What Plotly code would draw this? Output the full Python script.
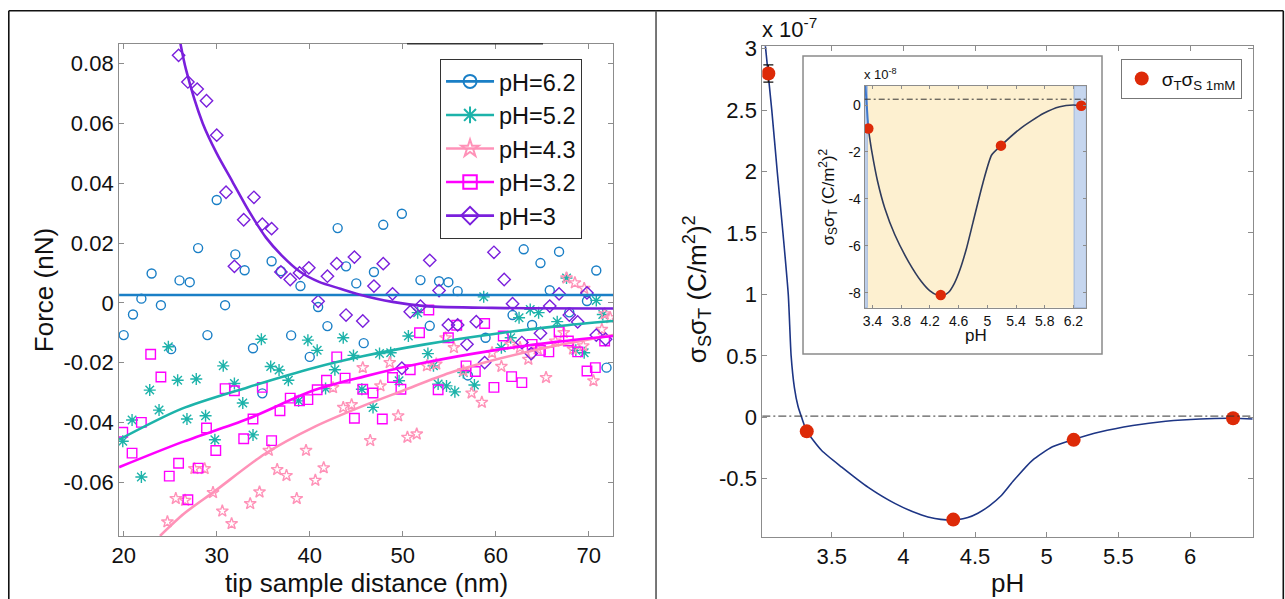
import plotly.graph_objects as go

# The page shows the figure 8 px from the top-left corner and the picture is
# slightly scaled; positions below are given in picture pixels and converted.
OFF = 8
W, H = 1285, 599
SX, SY = 1285 / 1293, 599 / 607
FONT = "Liberation Sans, Arial, sans-serif"

# ---------------- Left panel data ----------------
ph62_x = [20.0, 21.0, 21.9, 23.0, 24.0, 25.1, 26.0, 27.1, 28.0, 29.0, 30.0, 30.9, 32.0, 33.0, 33.9, 34.9, 35.9, 36.9, 38.0, 39.0, 40.0, 40.9, 41.9, 43.0, 43.9, 45.0, 45.8, 46.9, 47.9, 49.9, 51.9, 52.9, 53.9, 54.9, 55.9, 57.0, 58.9, 61.8, 63.0, 63.9, 64.8, 65.8, 66.8, 67.9, 69.8, 70.8, 71.9]
ph62_y = [-0.0108, -0.0039, 0.0014, 0.0098, -0.0008, -0.0155, 0.0075, 0.0069, 0.0183, -0.0108, 0.0344, -0.0008, 0.0162, 0.0109, -0.0152, -0.0303, 0.0139, 0.0106, -0.0109, 0.0056, -0.0181, -0.0014, -0.0078, 0.025, 0.0122, 0.0065, -0.0135, 0.0103, 0.0261, 0.0298, 0.0076, -0.0077, 0.0072, 0.0069, 0.0039, -0.0243, -0.0117, -0.0041, 0.0179, -0.0074, 0.0133, 0.0042, 0.0171, -0.0032, 0.0006, 0.0108, -0.0217]

ph52_x = [19.9, 20.9, 21.9, 22.8, 23.8, 24.8, 25.8, 26.8, 27.8, 28.8, 29.8, 30.7, 31.9, 32.8, 33.9, 34.8, 35.8, 36.7, 37.7, 38.8, 39.8, 40.8, 41.7, 42.7, 43.6, 44.7, 45.6, 46.8, 47.5, 48.7, 49.6, 50.6, 51.6, 52.7, 53.3, 53.8, 54.7, 55.6, 56.5, 57.7, 58.7, 60.6, 61.6, 62.5, 63.7, 64.6, 66.6, 67.6, 68.6, 69.5, 70.8, 71.5]
ph52_y = [-0.0463, -0.0392, -0.0583, -0.0292, -0.0359, -0.0147, -0.0259, -0.0389, -0.0255, -0.0378, -0.0458, -0.0211, -0.027, -0.0335, -0.0442, -0.0122, -0.0213, -0.0225, -0.0259, -0.0328, -0.0125, -0.0159, -0.0287, -0.0224, -0.0117, -0.0176, -0.0289, -0.035, -0.017, -0.0167, -0.0261, -0.0111, -0.0033, -0.017, -0.0211, -0.0272, -0.0278, -0.0298, -0.0233, -0.0275, 0.0020, -0.015, -0.0117, -0.005, -0.0022, -0.0033, -0.0063, 0.0083, -0.0159, -0.0167, 0.0008, -0.0039]

ph43_x = [24.7, 25.6, 26.6, 27.6, 28.7, 29.6, 30.6, 31.6, 33.6, 34.6, 35.6, 36.5, 37.5, 38.6, 39.6, 40.6, 41.5, 42.5, 43.6, 44.5, 45.7, 46.5, 47.6, 48.6, 49.5, 50.5, 51.5, 52.6, 53.6, 54.6, 55.5, 56.5, 57.4, 58.5, 59.6, 60.6, 61.6, 62.6, 63.5, 64.5, 65.4, 66.4, 67.3, 67.6, 68.3, 68.5, 69.4, 69.5, 70.5, 71.4, 71.7, 72.3]
ph43_y = [-0.0733, -0.0655, -0.0661, -0.0555, -0.0555, -0.0635, -0.0697, -0.0739, -0.0672, -0.0633, -0.0494, -0.0558, -0.0578, -0.0655, -0.0494, -0.0594, -0.0552, -0.0284, -0.035, -0.0341, -0.0217, -0.0461, -0.0278, -0.02, -0.0378, -0.045, -0.0439, -0.0211, -0.0205, -0.0117, -0.015, -0.0228, -0.0302, -0.0333, -0.0167, -0.0213, -0.0139, -0.015, -0.0189, -0.0155, -0.025, -0.0128, -0.01, 0.0083, -0.0155, 0.0067, -0.0144, 0.0048, -0.0261, -0.0089, -0.0037, -0.005]

ph32_x = [19.9, 20.9, 21.9, 22.9, 24.0, 24.9, 25.9, 26.9, 28.0, 28.9, 29.9, 30.9, 31.9, 32.9, 33.9, 34.9, 35.9, 36.8, 37.9, 38.9, 39.8, 40.8, 41.8, 42.9, 43.8, 44.8, 45.7, 46.8, 47.8, 48.9, 49.8, 50.8, 51.8, 52.8, 53.8, 54.9, 55.8, 56.8, 57.8, 58.8, 59.8, 60.8, 61.7, 62.8, 63.9, 64.8, 65.7, 66.8, 67.8, 68.8, 69.8, 70.7, 71.7]
ph32_y = [-0.0433, -0.0503, -0.04, -0.0172, -0.0248, -0.058, -0.0537, -0.0659, -0.0553, -0.0419, -0.0494, -0.0287, -0.0294, -0.0455, -0.0389, -0.0283, -0.0461, -0.0361, -0.0319, -0.0328, -0.0324, -0.0291, -0.0259, -0.0181, -0.0252, -0.0386, -0.0289, -0.0302, -0.0389, -0.025, -0.0289, -0.0224, -0.01, -0.0024, -0.0291, -0.0117, -0.0075, -0.0211, -0.023, -0.0069, -0.0283, -0.0111, -0.0247, -0.0267, -0.0139, -0.0159, -0.0164, -0.0097, -0.0128, -0.0164, -0.0228, -0.0217, -0.0128]

ph3_x = [25.9, 26.9, 27.9, 28.9, 30.0, 31.0, 31.9, 32.9, 34.0, 34.9, 35.9, 36.9, 37.9, 38.9, 39.9, 40.9, 41.9, 42.9, 43.9, 44.8, 45.7, 46.9, 47.9, 48.9, 49.9, 50.8, 51.9, 52.9, 53.9, 54.9, 55.9, 56.9, 57.9, 58.8, 59.8, 60.9, 61.8, 62.8, 63.8, 64.8, 65.8, 66.8, 67.9, 68.8, 69.8, 70.8, 71.8]
ph3_y = [0.0828, 0.0739, 0.0715, 0.0676, 0.0561, 0.037, 0.0122, 0.0278, 0.0353, 0.0263, 0.0248, 0.0103, 0.0078, 0.01, 0.0117, 0.0005, 0.0089, 0.0131, -0.0041, 0.0153, -0.0061, 0.0056, 0.0131, 0.003, -0.0219, -0.003, -0.0011, 0.0142, 0.0041, -0.0074, -0.0074, -0.0139, -0.0063, -0.02, 0.0169, 0.0078, -0.0003, -0.0133, -0.017, -0.0102, -0.0011, 0.003, -0.0041, -0.0064, 0.0033, -0.0108, -0.0122]

# fitted curves
fit62_x = [19.5, 72.6]
fit62_y = [0.0026, 0.0026]
fit52_x = [19.5, 26.2, 33.3, 40.5, 45.8, 52.4, 59.6, 66.7, 72.6]
fit52_y = [-0.0458, -0.0355, -0.0283, -0.0217, -0.0178, -0.0139, -0.0105, -0.0078, -0.0061]
fit43_x = [23.9, 26.5, 29.8, 35.2, 40.5, 45.8, 50.0, 55.0, 60.0, 65.0, 72.6]
fit43_y = [-0.078, -0.0705, -0.063, -0.0505, -0.0415, -0.0344, -0.0294, -0.0235, -0.019, -0.0153, -0.0108]
fit32_x = [19.5, 26.2, 33.3, 40.5, 45.8, 52.4, 59.6, 66.7, 72.6]
fit32_y = [-0.0550, -0.0467, -0.0389, -0.0292, -0.0247, -0.0200, -0.0160, -0.0130, -0.0111]
fit3_x = [25.9, 26.7, 28.5, 30.0, 31.7, 33.5, 35.3, 37.0, 39.0, 41.0, 43.3, 45.3, 48.9, 52.4, 59.6, 72.6]
fit3_y = [0.090, 0.078, 0.060, 0.0500, 0.0405, 0.0305, 0.0218, 0.0158, 0.0103, 0.0070, 0.0047, 0.0028, 0.0003, -0.0011, -0.0017, -0.0019]

left_xticks = [20, 30, 40, 50, 60, 70]
left_yticks = [-0.06, -0.04, -0.02, 0, 0.02, 0.04, 0.06, 0.08]
left_yticktext = ["-0.06", "-0.04", "-0.02", "0", "0.02", "0.04", "0.06", "0.08"]

# ---------------- Right panel data (units of 1e-7) ----------------
ph_pts = [3.058, 3.326, 4.348, 5.188, 6.30]
ss_pts = [2.797, -0.114, -0.832, -0.183, -0.008]
ss_err_first = 0.07
curve_x = [3.035, 3.082, 3.12, 3.16, 3.197, 3.217, 3.24, 3.265, 3.29, 3.325, 3.43, 3.57, 3.755, 3.94, 4.127, 4.22, 4.30, 4.38, 4.45, 4.52, 4.60, 4.68, 4.765, 4.90, 5.04, 5.19, 5.37, 5.60, 5.83, 6.07, 6.30, 6.437]
curve_y = [3.05, 2.5, 2.0, 1.5, 1.0, 0.5, 0.24, 0.09, 0.0, -0.11, -0.27, -0.405, -0.57, -0.70, -0.795, -0.823, -0.834, -0.832, -0.815, -0.78, -0.72, -0.64, -0.52, -0.35, -0.24, -0.18, -0.12, -0.067, -0.032, -0.013, -0.008, -0.013]
right_xticks = [3.5, 4, 4.5, 5, 5.5, 6]
right_xticktext = ["3.5", "4", "4.5", "5", "5.5", "6"]
right_yticks = [-0.5, 0, 0.5, 1, 1.5, 2, 2.5, 3]
right_yticktext = ["-0.5", "0", "0.5", "1", "1.5", "2", "2.5", "3"]

# ---------------- Inset data (units of 1e-8) ----------------
in_ph = [3.34, 4.35, 5.19, 6.31]
in_ss = [-1.0, -8.1, -1.73, -0.03]
in_steep_x = [3.298, 3.34]
in_steep_y = [0.9, -1.0]
in_curve_x = [3.34, 3.39, 3.47, 3.57, 3.71, 3.90, 4.08, 4.20, 4.30, 4.38, 4.46, 4.54, 4.62, 4.71, 4.80, 4.94, 5.06, 5.19, 5.46, 5.78, 6.01, 6.20, 6.31, 6.38]
in_curve_y = [-1.0, -2.0, -3.26, -4.4, -5.53, -6.67, -7.52, -7.92, -8.1, -8.12, -7.98, -7.6, -7.0, -6.1, -5.0, -3.3, -2.13, -1.73, -1.0, -0.36, -0.07, 0.0, -0.03, -0.03]
in_xticks = [3.4, 3.8, 4.2, 4.6, 5.0, 5.4, 5.8, 6.2]
in_xticktext = ["3.4", "3.8", "4.2", "4.6", "5", "5.4", "5.8", "6.2"]
in_yticks = [-8, -6, -4, -2, 0]
in_yticktext = ["-8", "-6", "-4", "-2", "0"]

# ---------------- styles ----------------
C62, C52, C43, C32, C3 = "#1a7fc6", "#1db3aa", "#ff92b8", "#ff00ff", "#7a1fdc"
RED = "#dd2a08"
AXC = "#8c8c8c"


def px2x(p):
    f = (p / SX - OFF) / W
    return min(max(f, 0.8 / W), 1 - 0.8 / W)


def py2y(p):
    f = 1 - (p / SY - OFF) / H
    return min(max(f, 0.8 / H), 1 - 0.8 / H)


fig = go.Figure()

series = [
    ("pH=6.2", ph62_x, ph62_y, fit62_x, fit62_y, C62, "circle-open", 9),
    ("pH=5.2", ph52_x, ph52_y, fit52_x, fit52_y, C52, "asterisk-open", 10),
    ("pH=4.3", ph43_x, ph43_y, fit43_x, fit43_y, C43, "star-open", 9),
    ("pH=3.2", ph32_x, ph32_y, fit32_x, fit32_y, C32, "square-open", 9.5),
    ("pH=3", ph3_x, ph3_y, fit3_x, fit3_y, C3, "diamond-open", 9.5),
]
for name, sx, sy, fx, fy, col, sym, sz in series:
    fig.add_trace(go.Scatter(x=sx, y=sy, mode="markers", xaxis="x", yaxis="y",
                             marker=dict(symbol=sym, size=sz, color=col, line=dict(width=1.4, color=col)),
                             showlegend=False, cliponaxis=True))
for name, sx, sy, fx, fy, col, sym, sz in series:
    fig.add_trace(go.Scatter(x=fx, y=fy, mode="lines", xaxis="x", yaxis="y",
                             line=dict(color=col, width=2.6, shape="spline", smoothing=0.8),
                             showlegend=False))
for name, sx, sy, fx, fy, col, sym, sz in series:
    fig.add_trace(go.Scatter(x=[None], y=[None], mode="lines+markers", xaxis="x", yaxis="y",
                             name=name, legend="legend",
                             line=dict(color=col, width=2.6),
                             marker=dict(symbol=sym, size=sz + 4, color=col, line=dict(width=2, color=col))))

# right main
fig.add_trace(go.Scatter(x=curve_x, y=curve_y, mode="lines", xaxis="x2", yaxis="y2",
                         line=dict(color="#1d3585", width=1.6, shape="spline", smoothing=0.6),
                         showlegend=False))
fig.add_trace(go.Scatter(x=ph_pts[:1], y=ss_pts[:1], mode="markers", xaxis="x2", yaxis="y2",
                         marker=dict(color=RED, size=14),
                         error_y=dict(type="data", array=[ss_err_first], color="#111", thickness=1.3, width=5),
                         showlegend=False))
fig.add_trace(go.Scatter(x=ph_pts[1:], y=ss_pts[1:], mode="markers", xaxis="x2", yaxis="y2",
                         marker=dict(color=RED, size=14),
                         name="σ<sub>T</sub>σ<sub>S 1mM</sub>", legend="legend2", showlegend=True))

# inset
fig.add_trace(go.Scatter(x=in_steep_x, y=in_steep_y, mode="lines", xaxis="x3", yaxis="y3",
                         line=dict(color="#3f78cc", width=2), showlegend=False))
fig.add_trace(go.Scatter(x=in_curve_x, y=in_curve_y, mode="lines", xaxis="x3", yaxis="y3",
                         line=dict(color="#2f3b5c", width=1.6, shape="spline", smoothing=0.6),
                         showlegend=False))
fig.add_trace(go.Scatter(x=in_ph, y=in_ss, mode="markers", xaxis="x3", yaxis="y3",
                         marker=dict(color=RED, size=10.5), showlegend=False))

axis_common = dict(showline=True, linecolor=AXC, linewidth=1, mirror="ticks", ticks="inside",
                   ticklen=5, tickcolor=AXC, showgrid=False, zeroline=False,
                   tickfont=dict(family=FONT, size=22, color="#111"))
inset_axis = {**axis_common, "tickfont": dict(family=FONT, size=14, color="#111"), "ticklen": 3}

fig.update_layout(
    width=W, height=H,
    margin=dict(l=0, r=0, t=0, b=0),
    paper_bgcolor="white", plot_bgcolor="rgba(0,0,0,0)",
    font=dict(family=FONT, color="#111"),
    xaxis=dict(domain=[px2x(119), px2x(613)], range=[19.5, 72.6], anchor="y",
               tickvals=left_xticks, **axis_common),
    yaxis=dict(domain=[py2y(535.7), py2y(41.7)], range=[-0.078, 0.0867], anchor="x",
               tickvals=left_yticks, ticktext=left_yticktext, **axis_common),
    xaxis2=dict(domain=[px2x(762.3), px2x(1252.7)], range=[3.016, 6.437], anchor="y2",
                tickvals=right_xticks, ticktext=right_xticktext, **axis_common),
    yaxis2=dict(domain=[py2y(536.7), py2y(44.3)], range=[-0.973, 3.019], anchor="x2",
                tickvals=right_yticks, ticktext=right_yticktext, **axis_common),
    xaxis3=dict(domain=[px2x(864.7), px2x(1086.3)], range=[3.29, 6.38], anchor="y3",
                tickvals=in_xticks, ticktext=in_xticktext, **inset_axis),
    yaxis3=dict(domain=[py2y(306.7), py2y(84)], range=[-8.64, 0.82], anchor="x3",
                tickvals=in_yticks, ticktext=in_yticktext, **inset_axis),
    legend=dict(x=px2x(440), y=py2y(56.7), xanchor="left", yanchor="top",
                bgcolor="white", bordercolor="#333", borderwidth=1,
                font=dict(family=FONT, size=23.5, color="#111"), itemwidth=48,
                tracegroupgap=0),
    legend2=dict(x=px2x(1120.7), y=py2y(56.7), xanchor="left", yanchor="top",
                 bgcolor="white", bordercolor="#777", borderwidth=1,
                 font=dict(family=FONT, size=19, color="#111")),
    showlegend=True,
)

shapes = []
# figure frame
top_y = py2y(8)
left_x = px2x(7)
right_x = px2x(1283.3)
shapes.append(dict(type="line", xref="paper", yref="paper", x0=left_x, x1=right_x, y0=top_y, y1=top_y, line=dict(color="#111", width=1.6)))
shapes.append(dict(type="line", xref="paper", yref="paper", x0=left_x, x1=left_x, y0=0, y1=top_y, line=dict(color="#111", width=1.6)))
shapes.append(dict(type="line", xref="paper", yref="paper", x0=right_x, x1=right_x, y0=0, y1=top_y, line=dict(color="#111", width=1.6)))
shapes.append(dict(type="line", xref="paper", yref="paper", x0=px2x(656), x1=px2x(656), y0=0, y1=top_y, line=dict(color="#555", width=1.6)))
# dark segment on top of left axes
shapes.append(dict(type="line", xref="paper", yref="paper", x0=px2x(407), x1=px2x(543), y0=py2y(41.7), y1=py2y(41.7), line=dict(color="#333", width=1.5)))
# inset white box
shapes.append(dict(type="rect", xref="paper", yref="paper", x0=px2x(803), x1=px2x(1102), y0=py2y(353), y1=py2y(54),
                   fillcolor="white", line=dict(color="#8a8a8a", width=1.5), layer="below"))
# inset backgrounds
shapes.append(dict(type="rect", xref="x3", yref="paper", x0=3.325, x1=6.21, y0=py2y(306.7), y1=py2y(84),
                   fillcolor="#fdf0d0", line=dict(width=0), layer="below"))
shapes.append(dict(type="rect", xref="x3", yref="paper", x0=3.29, x1=3.325, y0=py2y(306.7), y1=py2y(84),
                   fillcolor="#c6d6ee", line=dict(color="#9db5dc", width=1), layer="below"))
shapes.append(dict(type="rect", xref="x3", yref="paper", x0=6.21, x1=6.38, y0=py2y(306.7), y1=py2y(84),
                   fillcolor="#c6d6ee", line=dict(color="#9db5dc", width=1), layer="below"))
# dash-dot zero lines
shapes.append(dict(type="line", xref="x2 domain", yref="y2", x0=0, x1=1, y0=0.01, y1=0.01,
                   line=dict(color="#333", width=1, dash="8px,3px,2px,3px")))
shapes.append(dict(type="line", xref="x3 domain", yref="y3", x0=0, x1=1, y0=0.25, y1=0.25,
                   line=dict(color="#333", width=1, dash="6px,3px,2px,3px")))
fig.update_layout(shapes=shapes)

ann = []
ann.append(dict(text="Force (nN)", xref="paper", yref="paper", x=px2x(44), y=py2y(289), textangle=-90,
                showarrow=False, font=dict(family=FONT, size=26, color="#111"), xanchor="center", yanchor="middle"))
ann.append(dict(text="tip sample distance (nm)", xref="paper", yref="paper", x=px2x(366), y=py2y(583),
                showarrow=False, font=dict(family=FONT, size=26, color="#111"), xanchor="center", yanchor="middle"))
ann.append(dict(text="pH", xref="paper", yref="paper", x=px2x(1007.5), y=py2y(583),
                showarrow=False, font=dict(family=FONT, size=26, color="#111"), xanchor="center", yanchor="middle"))
ann.append(dict(text="σ<sub>S</sub>σ<sub>T</sub> (C/m<sup>2</sup>)<sup>2</sup>", xref="paper", yref="paper",
                x=px2x(697), y=py2y(288), textangle=-90,
                showarrow=False, font=dict(family=FONT, size=26, color="#111"), xanchor="center", yanchor="middle"))
ann.append(dict(text="x 10<sup>-7</sup>", xref="paper", yref="paper", x=px2x(760), y=py2y(26),
                showarrow=False, font=dict(family=FONT, size=22, color="#111"), xanchor="left", yanchor="middle"))
ann.append(dict(text="x 10<sup>-8</sup>", xref="paper", yref="paper", x=px2x(862), y=py2y(72),
                showarrow=False, font=dict(family=FONT, size=13, color="#111"), xanchor="left", yanchor="middle"))
ann.append(dict(text="σ<sub>S</sub>σ<sub>T</sub> (C/m<sup>2</sup>)<sup>2</sup>", xref="paper", yref="paper",
                x=px2x(828), y=py2y(196), textangle=-90,
                showarrow=False, font=dict(family=FONT, size=17, color="#111"), xanchor="center", yanchor="middle"))
ann.append(dict(text="pH", xref="paper", yref="paper", x=px2x(975.5), y=py2y(335),
                showarrow=False, font=dict(family=FONT, size=17, color="#111"), xanchor="center", yanchor="middle"))
fig.update_layout(annotations=ann)

fig.write_html("out.html")
